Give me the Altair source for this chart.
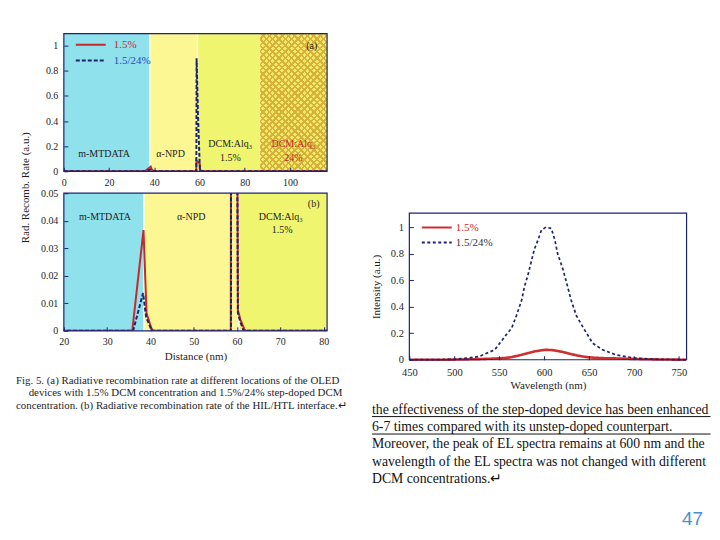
import altair as alt
import pandas as pd

SERIF = "Liberation Serif"
SANS = "Liberation Sans"
NAVY = "#1c2472"
RED = "#c62a2a"
INK = "#1e1e1e"

SERIES = ["1.5%", "1.5/24%"]

# ---------- (a)/(b): radiative recombination rate vs distance (nm) ----------
DIST_15 = [0, 35.8, 38.4, 39.1, 40.2, 40.6, 58.55, 58.62, 60.1, 60.2, 60.8, 61.7, 62.0, 116.4]
RATE_15 = [0, 0, 0.0366, 0.0064, 0.001, 0, 0, 0.085, 0.06, 0.0075, 0.004, 0.0005, 0, 0]
DIST_STEP = [0, 36.0, 38.3, 39.0, 39.9, 40.3, 58.6, 58.7, 59.3, 60.05, 60.2, 60.7, 61.4, 61.7, 116.4]
RATE_STEP = [0, 0, 0.0137, 0.005, 0.0016, 0, 0, 0.9, 0.45, 0.06, 0.0065, 0.0035, 0.0005, 0, 0]

# layer regions
A_REG_START = [0, 38.0, 59.1, 86.8]
A_REG_END = [38.0, 59.1, 86.8, 116.4]
B_REG_START = [20, 38.5, 60.4]
B_REG_END = [38.5, 60.4, 80.8]
REG_FILL = ["#8fe1ec", "#fdf793", "#eff56f", "#ecd257"]
HATCH_BASE = "#f1ea66"
HATCH_LINE = "#d6b23c"

A_NOTE_TEXT = ["m-MTDATA", "α-NPD", "DCM:Alq₃", "1.5%", "DCM:Alq₃", "24%", "(a)"]
A_NOTE_X = [17.8, 47.2, 73.6, 73.6, 101.5, 101.5, 109.6]
A_NOTE_Y = [0.14, 0.14, 0.214, 0.109, 0.214, 0.109, 1.0]
A_NOTE_FILL = [INK, INK, INK, INK, RED, RED, INK]

B_NOTE_TEXT = ["m-MTDATA", "α-NPD", "DCM:Alq₃", "1.5%", "(b)"]
B_NOTE_X = [29.5, 49.4, 70.1, 70.4, 77.7]
B_NOTE_Y = [0.0414, 0.0414, 0.0414, 0.0366, 0.046]

# ---------- (c): EL spectra ----------
EL_WL = [450, 480, 500, 515, 528, 545, 558, 564, 569, 575, 578, 582, 586, 589, 593, 597,
         602, 608, 612, 615, 621, 625, 630, 636, 645, 654, 665, 680, 700, 720, 758]
EL_STEP = [0, 0.001, 0.004, 0.012, 0.025, 0.075, 0.19, 0.24, 0.33, 0.45, 0.55, 0.64, 0.75, 0.83, 0.9, 0.977,
           1.0, 0.99, 0.9, 0.8, 0.68, 0.58, 0.45, 0.33, 0.225, 0.125, 0.075, 0.037, 0.013, 0.004, 0]
EL_15 = [0, 0, 0.001, 0.003, 0.005, 0.009, 0.014, 0.02, 0.028, 0.037, 0.043, 0.05, 0.057, 0.062, 0.067, 0.071,
         0.075, 0.073, 0.07, 0.066, 0.058, 0.052, 0.043, 0.033, 0.022, 0.016, 0.012, 0.01, 0.006, 0.003, 0]

CAPTION_LINES = [
    "Fig. 5. (a) Radiative recombination rate at different locations of the OLED",
    "devices with 1.5% DCM concentration  and 1.5%/24% step-doped DCM",
    "concentration.  (b) Radiative  recombination rate of the HIL/HTL interface.↵",
]
CAPTION_CENTERED = [1]
BODY_LINES = [
    "the effectiveness of the step-doped device has been enhanced",
    "6-7 times compared with its unstep-doped counterpart.",
    "Moreover, the peak of EL spectra remains at 600 nm and the",
    "wavelength of the EL spectra was not changed with different",
    "DCM concentrations.↵",
]
BODY_UNDERLINED = [0, 1]
PAGE_NUMBER = "47"

NOVIEW = alt.ViewBackground(stroke="transparent")
A_W, A_H = 264, 138
A_X_DOM = [0, 116.4]
TICK = 4

dist_df = pd.concat([
    pd.DataFrame({"series": SERIES[0], "dist": DIST_15, "rate": RATE_15}),
    pd.DataFrame({"series": SERIES[1], "dist": DIST_STEP, "rate": RATE_STEP}),
], ignore_index=True)
el_df = pd.concat([
    pd.DataFrame({"series": SERIES[0], "wl": EL_WL, "inten": EL_15}),
    pd.DataFrame({"series": SERIES[1], "wl": EL_WL, "inten": EL_STEP}),
], ignore_index=True)


def axis(values, title=None, pad=2, **kw):
    # ticks drawn inward: axis shifted into the plot by the tick length
    base = dict(values=values, format="~f", labelFont=SERIF, labelFontSize=10, labelColor=INK,
                tickColor=NAVY, tickSize=TICK, offset=-TICK, domain=False, grid=False, zindex=1,
                labelPadding=pad + TICK, labelFlush=False, labelOverlap=False)
    if title is not None:
        base.update(title=title, titleFont=SERIF, titleFontSize=11, titleFontWeight="normal",
                    titleColor=INK, titleAlign="center", titleBaseline="middle")
    else:
        base.update(title=None)
    base.update(kw)
    return alt.Axis(**base)


def legend(x, y, row_h, label_offset, second_color):
    return alt.Legend(orient="none", legendX=x, legendY=y, title=None, padding=0,
                      symbolType="stroke", symbolSize=900, symbolStrokeWidth=2, clipHeight=row_h,
                      rowPadding=0, labelOffset=label_offset, labelFont=SERIF, labelFontSize=11,
                      labelColor=alt.ExprRef(expr=f"datum.label == '{SERIES[0]}' ? '{RED}' : '{second_color}'"))


def hatch_gradient(w_px, h_px, base, line, period_px, frac, flip):
    """Diagonal stripe gradient (45 deg) for a w x h pixel box."""
    k = h_px / w_px
    dt = 2 ** 0.5 / (w_px * (1 + k * k))
    tmax = (1 + k) / (1 + k * k) + 0.02
    p = period_px * dt
    stops = []
    n = 0
    while n * p < tmax and (n + 1) * p <= 1:
        t0 = n * p
        t1 = t0 + p * (1 - frac)
        stops += [alt.GradientStop(offset=t0, color=base), alt.GradientStop(offset=t1, color=base),
                  alt.GradientStop(offset=t1, color=line), alt.GradientStop(offset=t0 + p, color=line)]
        n += 1
    if flip:
        return alt.LinearGradient(gradient="linear", stops=stops, x1=0, y1=1, x2=1, y2=1 - k)
    return alt.LinearGradient(gradient="linear", stops=stops, x1=0, y1=0, x2=1, y2=k)


def dist_panel(x_dom, y_dom, x_axis, y_axis, reg_start, reg_end, seps, notes, leg, dash, hatch=None):
    xs = alt.Scale(domain=x_dom, nice=False, zero=False)
    ys = alt.Scale(domain=y_dom, nice=False)
    n_solid = len(reg_start) if hatch is None else len(reg_start) - 1
    reg_df = pd.DataFrame({"start": reg_start[:n_solid], "end": reg_end[:n_solid], "fill": REG_FILL[:n_solid]})
    layers = [alt.Chart(reg_df).mark_rect().encode(
        x=alt.X("start:Q", scale=xs, axis=x_axis), x2="end:Q", fill=alt.Fill("fill:N", scale=None))]
    if hatch is not None:
        h_df = pd.DataFrame({"start": reg_start[n_solid:], "end": reg_end[n_solid:]})
        for g in hatch:
            layers.append(alt.Chart(h_df).mark_rect(fill=g).encode(
                x=alt.X("start:Q", scale=xs, axis=x_axis), x2="end:Q"))
    layers.append(alt.Chart(pd.DataFrame({"b": seps})).mark_rule(color="white", strokeWidth=1.3).encode(
        x=alt.X("b:Q", scale=xs, axis=x_axis)))
    col = alt.Color("series:N", scale=alt.Scale(domain=SERIES, range=[RED, NAVY]), legend=leg)
    sd = alt.StrokeDash("series:N", scale=alt.Scale(domain=SERIES, range=[[1, 0], dash]), legend=leg)
    enc = dict(x=alt.X("dist:Q", scale=xs, axis=x_axis), y=alt.Y("rate:Q", scale=ys, axis=y_axis),
               color=col, strokeDash=sd)
    for s in SERIES:
        layers.append(alt.Chart(dist_df).transform_filter(alt.datum.series == s).mark_line(
            strokeWidth=2, clip=True).encode(**enc))
    layers.append(alt.Chart(notes).mark_text(font=SERIF, fontSize=10, baseline="middle").encode(
        x=alt.X("x:Q", scale=xs, axis=x_axis), y=alt.Y("y:Q", scale=ys, axis=y_axis),
        text="label:N", fill=alt.Fill("fill:N", scale=None)))
    layers.append(alt.Chart(pd.DataFrame({"x0": [x_dom[0]], "x1": [x_dom[1]], "y0": [y_dom[0]], "y1": [y_dom[1]]})
                            ).mark_rect(fill="transparent", stroke=NAVY, strokeWidth=1.2).encode(
        x=alt.X("x0:Q", scale=xs, axis=x_axis), x2="x1:Q",
        y=alt.Y("y0:Q", scale=ys, axis=y_axis), y2="y1:Q"))
    return alt.layer(*layers)


# panel (a)
hatch_w = (A_REG_END[3] - A_REG_START[3]) / (A_X_DOM[1] - A_X_DOM[0]) * A_W
hatch = [hatch_gradient(hatch_w, A_H, HATCH_BASE, HATCH_LINE, 4.5, 0.38, False),
         hatch_gradient(hatch_w, A_H, "rgba(214,178,60,0)", HATCH_LINE, 4.5, 0.38, True)]
a_notes = pd.DataFrame({"label": A_NOTE_TEXT, "x": A_NOTE_X, "y": A_NOTE_Y, "fill": A_NOTE_FILL})
panel_a = dist_panel(
    A_X_DOM, [0, 1.095],
    axis([0, 20, 40, 60, 80, 100]),
    axis([0, 0.2, 0.4, 0.6, 0.8, 1], title="Rad. Recomb. Rate (a.u.)", titleX=-38 - TICK, titleY=154,
         titleAngle=270),
    A_REG_START, A_REG_END, A_REG_START[1:3], a_notes,
    legend(11, 3, 16, 7, "#2a48c0"), [4, 2], hatch=hatch,
).properties(width=A_W, height=A_H, view=NOVIEW)

# panel (b)
b_notes = pd.DataFrame({"label": B_NOTE_TEXT, "x": B_NOTE_X, "y": B_NOTE_Y, "fill": [INK] * 5})
panel_b = dist_panel(
    [20, 80.8], [0, 0.05],
    axis([20, 30, 40, 50, 60, 70, 80], title="Distance (nm)", titleY=26 + TICK),
    axis([0, 0.01, 0.02, 0.03, 0.04, 0.05]),
    B_REG_START, B_REG_END, B_REG_START[1:3], b_notes,
    None, [4, 2],
).properties(width=A_W, height=A_H, view=NOVIEW)

# panel (c)
C_X_DOM = [450, 758.5]
C_Y_DOM = [0, 1.2556]
C_BOX_TOP = 1.105
xc = alt.Scale(domain=C_X_DOM, nice=False, zero=False)
yc = alt.Scale(domain=C_Y_DOM, nice=False)
xc_axis = axis([450, 500, 550, 600, 650, 700, 750], title="Wavelength (nm)", titleY=26 + TICK,
               labelFontSize=10.5, pad=4)
yc_axis = axis([0, 0.2, 0.4, 0.6, 0.8, 1], title="Intensity (a.u.)", titleX=-32.5 - TICK, titleY=93.5,
               titleAngle=270, labelFontSize=10.5)
leg_c = legend(11.5, 27, 15, 3, "#333333")
c_col = alt.Color("series:N", scale=alt.Scale(domain=SERIES, range=["#cc3030", NAVY]), legend=leg_c)
c_sd = alt.StrokeDash("series:N", scale=alt.Scale(domain=SERIES, range=[[1, 0], [3, 2.5]]), legend=leg_c)
c_enc = dict(x=alt.X("wl:Q", scale=xc, axis=xc_axis), y=alt.Y("inten:Q", scale=yc, axis=yc_axis),
             color=c_col, strokeDash=c_sd)
c_red = alt.Chart(el_df).transform_filter(alt.datum.series == SERIES[0]).mark_line(strokeWidth=2.6).encode(**c_enc)
c_blu = alt.Chart(el_df).transform_filter(alt.datum.series == SERIES[1]).mark_line(strokeWidth=1.7).encode(**c_enc)
c_frame = alt.Chart(pd.DataFrame({"x0": [C_X_DOM[0]], "x1": [C_X_DOM[1]], "y0": [0], "y1": [C_BOX_TOP]})
                    ).mark_rect(fill="transparent", stroke=NAVY, strokeWidth=1.2).encode(
    x=alt.X("x0:Q", scale=xc, axis=xc_axis), x2="x1:Q",
    y=alt.Y("y0:Q", scale=yc, axis=yc_axis), y2="y1:Q")
panel_c = alt.layer(c_red, c_blu, c_frame).properties(width=278, height=167, view=NOVIEW)

# spacer
spacer = alt.Chart(pd.DataFrame({"t": [""]})).mark_text().encode(text="t:N").properties(
    width=278, height=10, view=NOVIEW)

# caption under (b)
cap_df = pd.DataFrame({"line": CAPTION_LINES, "i": list(range(len(CAPTION_LINES)))})
ys_cap = alt.Scale(domain=[0, 2], range=[-1, 24])
cap_left = alt.Chart(cap_df).transform_filter(
    ~alt.FieldOneOfPredicate(field="i", oneOf=CAPTION_CENTERED)
).mark_text(font=SERIF, fontSize=10.9, align="left", baseline="middle", color=INK).encode(
    y=alt.Y("i:Q", scale=ys_cap, axis=None), x=alt.value(-48), text="line:N")
cap_mid = alt.Chart(cap_df).transform_filter(
    alt.FieldOneOfPredicate(field="i", oneOf=CAPTION_CENTERED)
).mark_text(font=SERIF, fontSize=10.9, align="center", baseline="middle", color=INK).encode(
    y=alt.Y("i:Q", scale=ys_cap, axis=None), x=alt.value(122), text="line:N")
caption = alt.layer(cap_left, cap_mid).properties(width=264, height=20, view=NOVIEW)

# body text at right
body_df = pd.DataFrame({"line": BODY_LINES, "i": list(range(len(BODY_LINES)))})
ys_body = alt.Scale(domain=[0, 4], range=[28, 98])
body = alt.Chart(body_df).mark_text(font=SERIF, fontSize=13.8, align="left", baseline="middle",
                                    color="#111111").encode(
    y=alt.Y("i:Q", scale=ys_body, axis=None), x=alt.value(-37.5), text="line:N")
under = alt.Chart(pd.DataFrame({"i": BODY_UNDERLINED})).mark_rule(color="#111111", strokeWidth=1, yOffset=7).encode(
    y=alt.Y("i:Q", scale=ys_body, axis=None), x=alt.value(-37.5), x2=alt.value(302))
pnum = alt.Chart(pd.DataFrame({"t": [PAGE_NUMBER]})).mark_text(font=SANS, fontSize=19, color="#4a8fcc",
                                                               align="center", baseline="middle").encode(
    text="t:N", x=alt.value(284), y=alt.value(138))
textblock = alt.layer(body, under, pnum).properties(width=278, height=20, view=NOVIEW)

chart = alt.concat(
    panel_a, spacer, panel_b, panel_c, caption, textblock,
    columns=2, spacing={"row": 22, "column": 82.5}, bounds="flush", align="each",
).resolve_scale(
    color="independent", strokeDash="independent", fill="independent"
).properties(
    padding={"left": 7, "top": 23, "right": 0, "bottom": 2}, background="white"
).configure(font=SERIF).configure_view(stroke="transparent")

chart.save("out.html", embed_options={"renderer": "svg", "actions": False})
